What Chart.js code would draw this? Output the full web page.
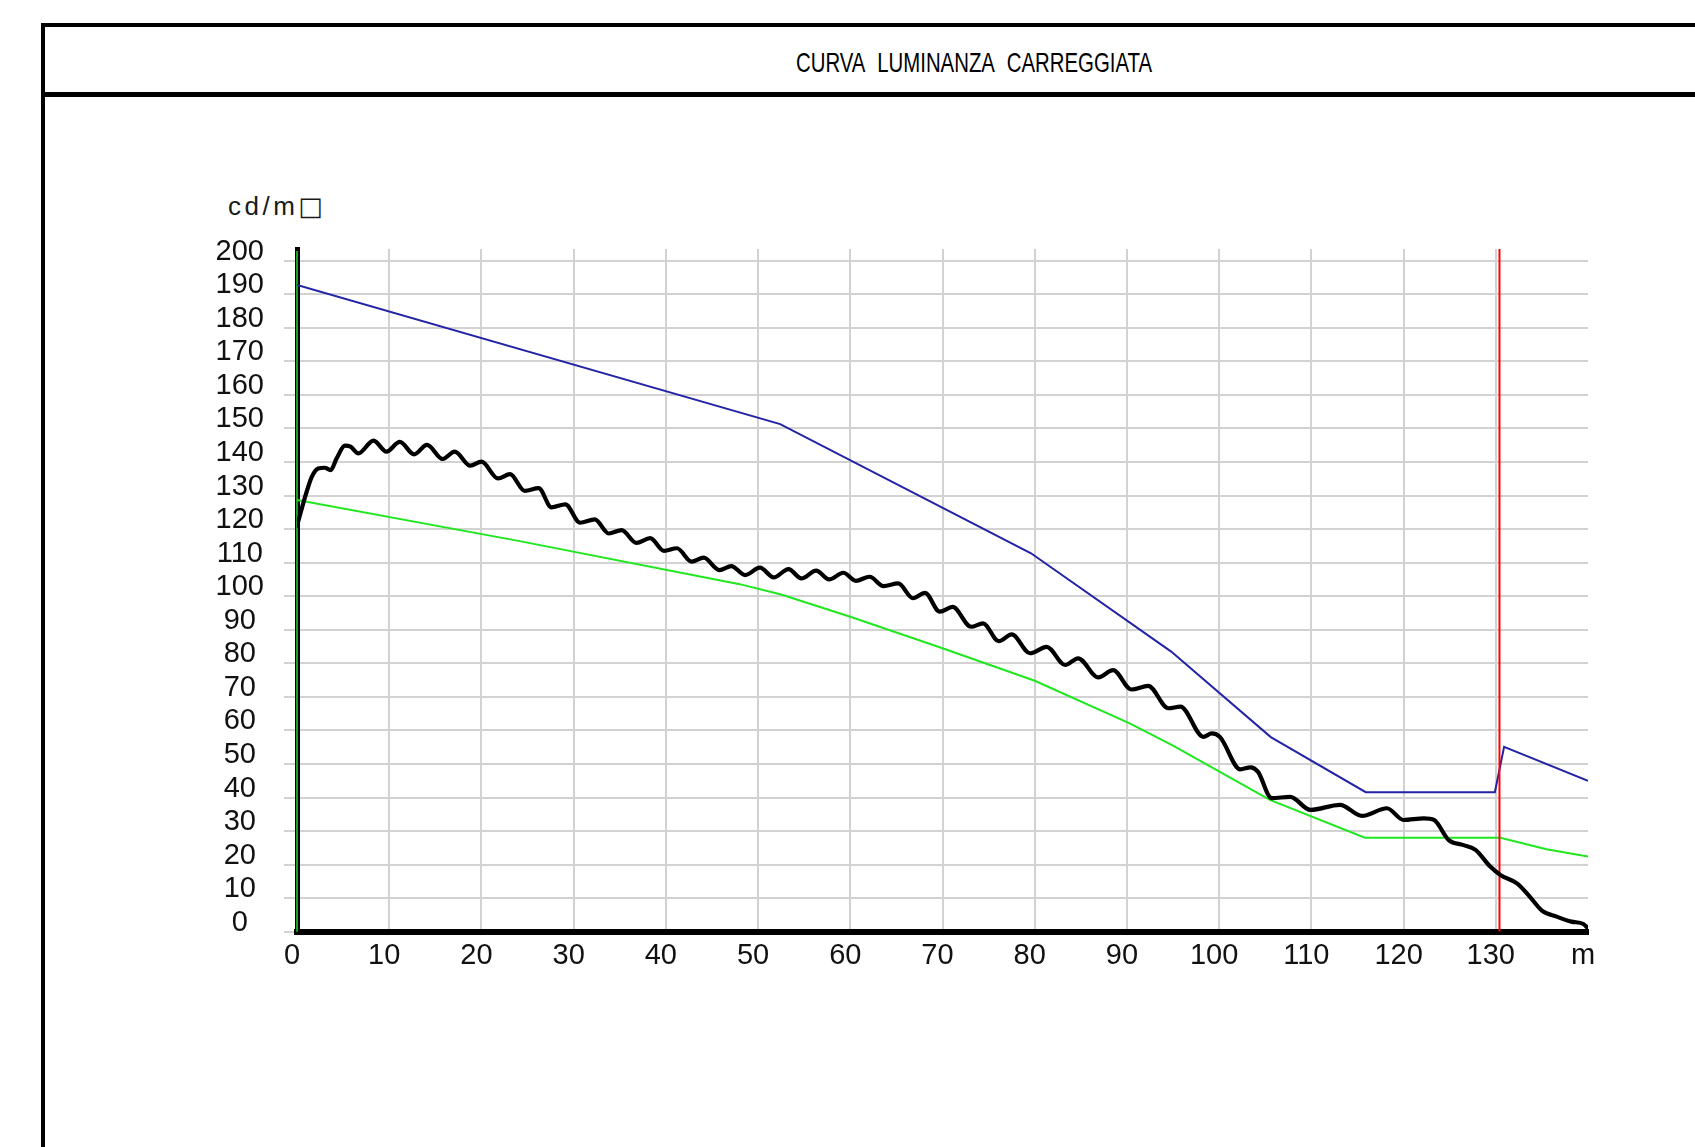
<!DOCTYPE html>
<html><head><meta charset="utf-8">
<script src="https://cdn.jsdelivr.net/npm/chart.js@4.4.1/dist/chart.umd.min.js"></script>
<style>
html,body{margin:0;padding:0;background:#fff;width:1695px;height:1147px;overflow:hidden;position:relative}
#c{position:absolute;left:0;top:0;}
.hl{position:absolute;background:#000;}
#title{position:absolute;top:47px;left:796px;font-family:"Liberation Sans",Arial,sans-serif;font-size:28px;line-height:32px;white-space:nowrap;transform-origin:0 0;color:#000;word-spacing:10px}
#unit{position:absolute;left:228px;top:191px;font-family:"Liberation Sans",Arial,sans-serif;font-size:26px;line-height:30px;letter-spacing:3.5px;color:#1a1a1a;white-space:nowrap}
#unit .bx{font-family:"DejaVu Sans",sans-serif;font-size:26px;letter-spacing:0}
</style></head><body>
<div class="hl" style="left:41px;top:23px;width:1654px;height:4px"></div>
<div class="hl" style="left:41px;top:92px;width:1654px;height:5px"></div>
<div class="hl" style="left:41px;top:23px;width:4px;height:1124px"></div>
<div id="title">CURVA LUMINANZA CARREGGIATA</div>
<div id="unit">cd/m<span class="bx">□</span></div>
<canvas id="c" width="1695" height="1147"></canvas>
<script>
// ---- data ----
const xTickValues = [0,10,20,30,40,50,60,70,80,90,100,110,120,130,140];
const xTickLabels = ['0','10','20','30','40','50','60','70','80','90','100','110','120','130','m'];
const yTickValues = [0,10,20,30,40,50,60,70,80,90,100,110,120,130,140,150,160,170,180,190,200];
const yMax = 203.5;

const blackX = [0,1.0,1.6,2.3,3.0,3.65,4.3,5.2,5.8,6.65,8.3,9.7,11.15,12.7,14.1,15.8,17.1,18.8,20.0,21.8,23.1,
  24.7,26.2,27.6,29.1,30.7,32.3,33.8,35.2,36.8,38.3,39.8,41.2,42.8,44.1,45.8,47.1,48.6,50.2,51.7,53.3,54.7,
  56.3,57.7,59.25,60.6,62.1,63.6,65.2,66.8,68.1,69.7,71.1,73.1,74.4,76.1,77.5,79.5,81.3,83.3,84.7,86.9,88.5,
  90.5,92.3,94.5,95.8,98.3,99.2,100.1,102.3,103.4,104.2,105.7,107.7,109.9,113.1,115.5,118.2,120.0,122.2,123.3,
  124.9,126.5,127.8,129.4,130.5,132.3,133.7,135.0,136.6,138.2,139.5,140];
const blackY = [121,130.7,135.6,138.1,138.3,137.6,141.1,144.9,144.6,142.6,146.4,143.1,146.0,142.3,145.1,140.9,143.1,138.9,140.1,135.1,136.4,
  131.4,132.2,126.5,127.4,121.9,122.9,118.7,119.7,115.9,117.3,113.5,114.3,110.3,111.5,107.8,109.0,106.3,108.5,105.6,108.1,105.3,
  107.6,105.0,107.0,104.6,105.8,103.0,103.8,99.4,101.0,95.4,96.8,90.9,91.9,86.6,88.6,83.0,84.9,79.5,81.5,75.8,78.0,
  72.2,73.3,66.6,67.1,58.1,59.1,58.0,48.4,49.0,47.7,39.8,40.2,36.3,37.8,34.5,36.8,33.3,33.8,33.3,
  27.3,25.8,24.4,19.4,16.9,14.4,10.4,6.3,4.5,3.0,2.3,1.0];

const blueX = [0,52.4,79.6,94.8,105.6,115.9,129.9,130.9,140];
const blueY = [192.8,151.3,112.8,83.5,58.0,41.6,41.6,55.1,45.0];

const greenX = [0,24,48,52.5,60,70,80,90.3,95,105.5,115.8,130.5,135.5,140];
const greenY = [128.7,116.5,103.6,100.5,93.9,84.5,74.8,62.1,55.5,39.3,28.0,28.0,24.6,22.4];

const redLineX = 130.4;

// ---- title fit ----
(function(){
  const t = document.getElementById('title');
  const w = t.getBoundingClientRect().width;
  t.style.transform = 'scaleX(' + (356 / w) + ')';
})();

const zip = (xs, ys) => xs.map((x, i) => ({x, y: ys[i]}));

const axisOverlay = {
  id: 'axisOverlay',
  beforeDatasetsDraw(chart) {
    const {ctx, chartArea: a, scales: {x}} = chart;
    const px = x.getPixelForValue(0);
    ctx.save();
    ctx.strokeStyle = '#1e9e1e';
    ctx.lineWidth = 2;
    ctx.beginPath();
    ctx.moveTo(px, a.top + 2);
    ctx.lineTo(px, a.bottom);
    ctx.stroke();
    ctx.restore();
  }
};

const tickFont = {family: '"Liberation Sans", Arial, sans-serif', size: 29};

new Chart(document.getElementById('c'), {
  type: 'line',
  data: {
    datasets: [
      {data: zip(blackX, blackY), borderColor: '#000', borderWidth: 4.2, pointRadius: 0,
       cubicInterpolationMode: 'monotone', tension: 0.4, borderJoinStyle: 'round', borderCapStyle: 'round'},
      {data: [{x: redLineX, y: 0}, {x: redLineX, y: yMax}], borderColor: '#ff0000', borderWidth: 2, pointRadius: 0},
      {data: zip(blueX, blueY), borderColor: '#2323a6', borderWidth: 2, pointRadius: 0, tension: 0},
      {data: zip(greenX, greenY), borderColor: '#1fe81f', borderWidth: 2, pointRadius: 0, tension: 0}
    ]
  },
  options: {
    responsive: false,
    animation: false,
    events: [],
    layout: {padding: {left: 0, top: 249, right: 107, bottom: 155.3}},
    plugins: {legend: {display: false}, tooltip: {enabled: false}},
    scales: {
      x: {
        type: 'linear', min: 0, max: 140,
        afterBuildTicks: s => { s.ticks = xTickValues.map(v => ({value: v})); },
        afterFit: s => { s.height = 60; },
        grid: {
          color: c => (c.tick && (c.tick.value === 0 || c.tick.value === 140)) ? 'rgba(0,0,0,0)' : '#d2d2d2',
          lineWidth: 2, drawTicks: false
        },
        border: {color: '#000', width: 6},
        ticks: {
          font: tickFont, color: '#111', padding: 7, labelOffset: -5, maxRotation: 0, autoSkip: false,
          callback: (v) => xTickLabels[xTickValues.indexOf(v)]
        }
      },
      y: {
        type: 'linear', min: 0, max: yMax,
        afterBuildTicks: s => { s.ticks = yTickValues.map(v => ({value: v})); },
        afterFit: s => { s.width = 297; },
        grid: {color: '#d2d2d2', lineWidth: 2, drawTicks: true, tickLength: 13, tickColor: '#d2d2d2', tickWidth: 2},
        border: {color: '#000', width: 5},
        ticks: {
          font: tickFont, color: '#111', padding: 20, crossAlign: 'center', labelOffset: -9, autoSkip: false,
          callback: (v) => String(v)
        }
      }
    }
  },
  plugins: [axisOverlay]
});
</script>
</body></html>
